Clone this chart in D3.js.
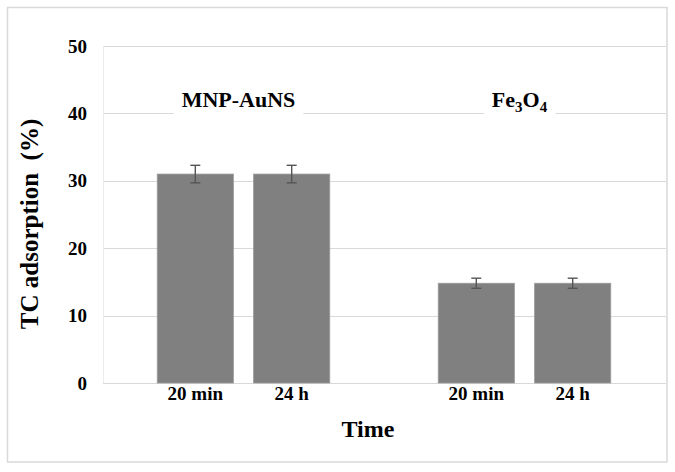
<!DOCTYPE html>
<html>
<head>
<meta charset="utf-8">
<script src="https://cdn.jsdelivr.net/npm/d3@7"></script>
<style>
  html, body { margin: 0; padding: 0; background: #fff; }
  svg { display: block; }
  text { font-family: "Liberation Serif", "Times New Roman", serif; font-weight: bold; fill: #000; }
</style>
</head>
<body>
<svg id="chart" width="675" height="472"></svg>
<script>
// ---- data ----
const groups = ["MNP-AuNS", "Fe3O4"];
const times = ["20 min", "24 h"];
const mnpValues = [31.0, 31.0];
const mnpErrors = [1.3, 1.3];
const feValues = [14.8, 14.8];
const feErrors = [0.75, 0.75];
const yTicks = [0, 10, 20, 30, 40, 50];

const rows = [];
groups.forEach((g, gi) => {
  const vals = gi === 0 ? mnpValues : feValues;
  const errs = gi === 0 ? mnpErrors : feErrors;
  times.forEach((t, ti) => rows.push({ group: g, time: t, value: vals[ti], err: errs[ti] }));
});

// ---- layout ----
const W = 675, H = 472;
const plot = { left: 103, right: 665, top: 46, bottom: 383 };
const svg = d3.select("#chart");

// outer border
svg.append("rect")
  .attr("x", 7.5).attr("y", 7.5)
  .attr("width", 659.5).attr("height", 454.5)
  .attr("fill", "#fff").attr("stroke", "#d9d9d9").attr("stroke-width", 1.5);

const y = d3.scaleLinear().domain([0, 50]).range([plot.bottom, plot.top]);
const x0 = d3.scaleBand().domain(groups).range([plot.left, plot.right])
  .paddingInner(0.386).paddingOuter(0.193);
const x1 = d3.scaleBand().domain(times).range([0, x0.bandwidth()]).paddingInner(0.21);

// gridlines
svg.append("g").selectAll("line").data(yTicks).join("line")
  .attr("x1", plot.left).attr("x2", plot.right + 1)
  .attr("y1", d => Math.round(y(d)) + 0.5).attr("y2", d => Math.round(y(d)) + 0.5)
  .attr("stroke", "#d9d9d9").attr("stroke-width", 1);

// faint value axis line
svg.append("line")
  .attr("x1", plot.left + 0.5).attr("x2", plot.left + 0.5)
  .attr("y1", y(50)).attr("y2", y(0))
  .attr("stroke", "#ececec").attr("stroke-width", 1);

// y axis tick labels via d3 axis
const yAxis = svg.append("g")
  .attr("transform", `translate(${plot.left},0)`)
  .call(d3.axisLeft(y).tickValues(yTicks).tickSize(0).tickPadding(16));
yAxis.select(".domain").remove();
yAxis.selectAll("text")
  .style("font-family", "'Liberation Serif', 'Times New Roman', serif")
  .style("font-weight", "bold").style("font-size", "19px").attr("fill", "#000");

// bars
const barG = svg.append("g");
barG.selectAll("rect").data(rows).join("rect")
  .attr("x", d => x0(d.group) + x1(d.time))
  .attr("y", d => y(d.value))
  .attr("width", x1.bandwidth())
  .attr("height", d => y(0) - y(d.value))
  .attr("fill", "#808080")
  .attr("stroke", "#9a9a9a").attr("stroke-width", 0.8);

// error bars
const errG = svg.append("g").attr("stroke", "#555").attr("stroke-width", 1.4);
rows.forEach(d => {
  const cx = x0(d.group) + x1(d.time) + x1.bandwidth() / 2;
  const yt = y(d.value + d.err), yb = y(d.value - d.err);
  errG.append("line").attr("x1", cx).attr("x2", cx).attr("y1", yt).attr("y2", yb);
  errG.append("line").attr("x1", cx - 5).attr("x2", cx + 5).attr("y1", yt).attr("y2", yt);
  errG.append("line").attr("x1", cx - 5).attr("x2", cx + 5).attr("y1", yb).attr("y2", yb);
});

// x tick labels under bars
svg.append("g").selectAll("text").data(rows).join("text")
  .attr("x", d => x0(d.group) + x1(d.time) + x1.bandwidth() / 2)
  .attr("y", 400)
  .attr("text-anchor", "middle")
  .style("font-size", "19px")
  .text(d => d.time);

// group labels with white backgrounds
groups.forEach((g, gi) => {
  const cx = x0(g) + x0.bandwidth() / 2 - 5;
  const lg = svg.append("g");
  const bg = lg.append("rect").attr("fill", "#fff");
  const t = lg.append("text")
    .attr("x", cx).attr("y", 107)
    .attr("text-anchor", "middle")
    .style("font-size", "22px");
  if (g === "Fe3O4") {
    t.append("tspan").text("Fe");
    t.append("tspan").text("3").attr("font-size", "15px").attr("dy", 5);
    t.append("tspan").text("O").attr("dy", -5);
    t.append("tspan").text("4").attr("font-size", "15px").attr("dy", 5);
  } else {
    t.text(g);
  }
  const bb = t.node().getBBox();
  bg.attr("x", bb.x - 8).attr("y", bb.y - 2)
    .attr("width", bb.width + 16).attr("height", bb.height + 8);
});

// axis titles
svg.append("text")
  .attr("x", 368).attr("y", 437)
  .attr("text-anchor", "middle")
  .style("font-size", "24px")
  .text("Time");

svg.append("text")
  .attr("transform", "translate(38,224) rotate(-90)")
  .attr("text-anchor", "middle")
  .style("font-size", "25px")
  .attr("xml:space", "preserve")
  .text("TC adsorption  (%)");
</script>
</body>
</html>
